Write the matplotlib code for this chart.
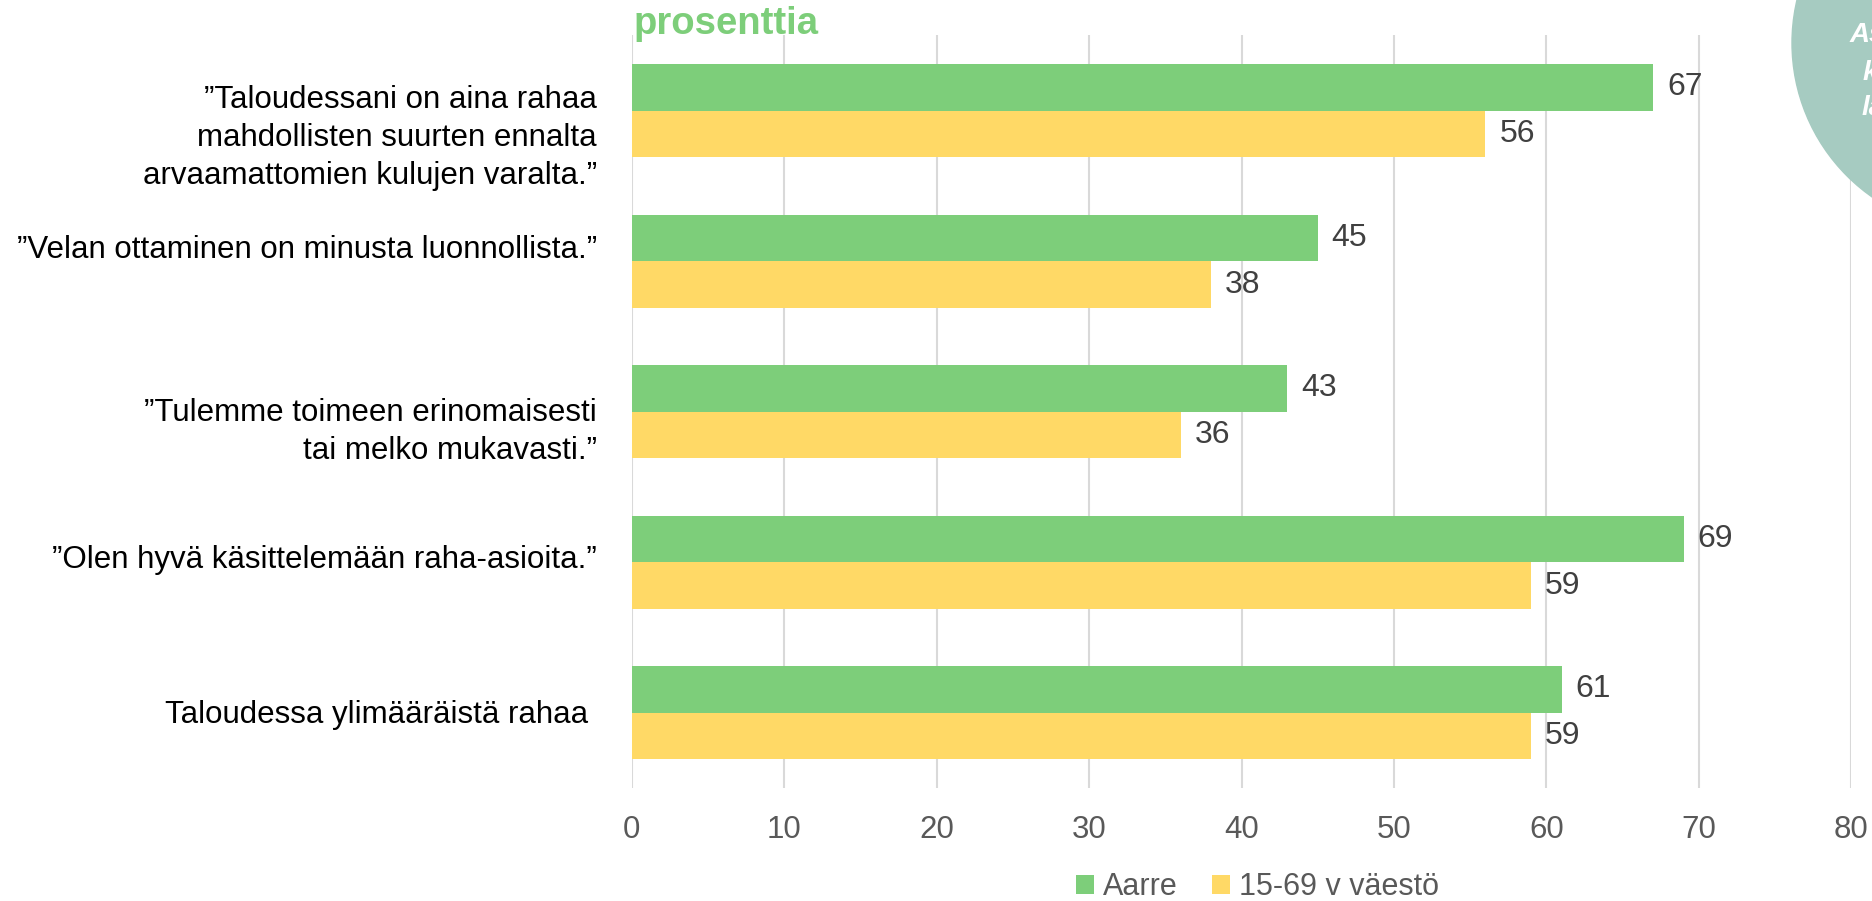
import numpy as np
import matplotlib
matplotlib.use("Agg")
import matplotlib.pyplot as plt
from matplotlib.patches import Ellipse

plt.rcParams["font.family"] = ["Liberation Sans", "DejaVu Sans"]

# data
categories = [
    "\u201dTaloudessani on aina rahaa\nmahdollisten suurten ennalta\narvaamattomien kulujen varalta.\u201d",
    "\u201dVelan ottaminen on minusta luonnollista.\u201d",
    "\u201dTulemme toimeen erinomaisesti\ntai melko mukavasti.\u201d",
    "\u201dOlen hyv\u00e4 k\u00e4sittelem\u00e4\u00e4n raha-asioita.\u201d",
    "Taloudessa ylim\u00e4\u00e4r\u00e4ist\u00e4 rahaa ",
]
aarre = [67, 45, 43, 69, 61]
vaesto = [56, 38, 36, 59, 59]
series_names = ["Aarre", "15-69 v v\u00e4est\u00f6"]
xticks = list(range(0, 81, 10))
unit_label = "prosenttia"
badge_lines = ["As", "k", "la"]

GREEN = "#7dce7a"
YELLOW = "#ffd966"
GRID = "#d9d9d9"
TEAL = "#a6cbc1"

# the category labels in the original sit a bit off the bar centres
label_shift = [0.18, -0.075, 0.135, -0.012, 0.012]


def main():
    fig = plt.figure(figsize=(18.72, 9.01), dpi=100)
    ax = fig.add_axes([0.3374, 0.1254, 0.989 - 0.3374, 0.9606 - 0.1254])

    y = np.arange(len(categories))
    h = 0.31
    b1 = ax.barh(y - h / 2, aarre, height=h, color=GREEN, zorder=3,
                 label=series_names[0])
    b2 = ax.barh(y + h / 2, vaesto, height=h, color=YELLOW, zorder=3,
                 label=series_names[1])
    for b in (b1, b2):
        ax.bar_label(b, padding=10, fontsize=23, color="#404040")

    ax.set_xlim(0, 80)
    ax.set_ylim(len(categories) - 0.5, -0.5)
    ax.set_xticks(xticks)
    ax.set_yticks([])
    ax.xaxis.grid(True, color=GRID, lw=1.5)
    ax.set_axisbelow(True)
    for s in ax.spines.values():
        s.set_visible(False)
    ax.tick_params(axis="x", length=0, pad=19.5, labelsize=22.5,
                   labelcolor="#595959")

    for yi, lab, dy in zip(y, categories, label_shift):
        ax.annotate(lab, xy=(0, yi + dy), xycoords=("axes fraction", "data"),
                    xytext=(-25, 0), textcoords="offset points",
                    ha="right", va="center", multialignment="right",
                    fontsize=22.5, color="black", linespacing=1.35)

    fig.text(634 / 1872, 1 - 34 / 901, unit_label, fontsize=27.5,
             weight="bold", color=GREEN, va="baseline")

    fig.legend(handles=[b1, b2], loc="center",
               bbox_to_anchor=(0.6717, 0.015), ncol=2, frameon=False,
               fontsize=22, handlelength=0.6, handleheight=0.6,
               handletextpad=0.3, columnspacing=1.1, labelcolor="#595959",
               borderaxespad=0, borderpad=0)

    # teal badge cut off at the top-right corner (clipped like the original)
    fig.add_artist(Ellipse((1980 / 1872, 1 - 43 / 901), 2 * 188 / 1872,
                           2 * 188 / 901, transform=fig.transFigure,
                           color=TEAL, zorder=5))
    for (x, yb), t in zip([(1850, 42), (1863, 80), (1862, 115)], badge_lines):
        fig.text(x / 1872, 1 - yb / 901, t, fontsize=20, weight="bold",
                 style="italic", color="white", va="baseline", zorder=6)

    fig.savefig("out.png", dpi=100)
    plt.close(fig)


if __name__ == "__main__":
    main()
